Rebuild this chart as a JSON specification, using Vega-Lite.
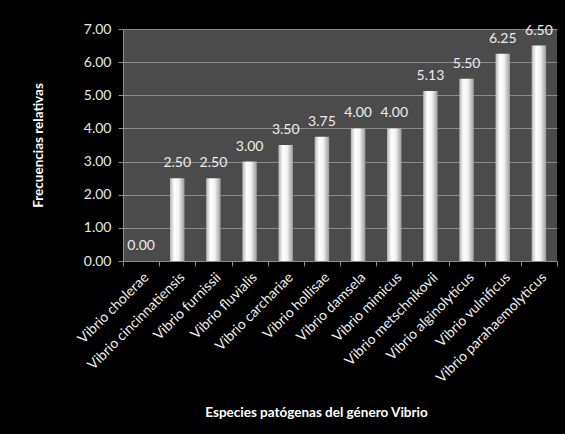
{
  "$schema": "https://vega.github.io/schema/vega-lite/v6.json",
  "width": 434,
  "height": 232,
  "autosize": {"type": "none"},
  "padding": {"left": 123, "top": 29, "right": 8, "bottom": 173},
  "background": "#000000",
  "config": {
    "font": "Lato",
    "view": {"fill": "#4b4b4b", "stroke": null}
  },
  "data": {
    "values": [
      {"especie": "Vibrio cholerae", "frecuencia": 0.00},
      {"especie": "Vibrio cincinnatiensis", "frecuencia": 2.50},
      {"especie": "Vibrio furnissii", "frecuencia": 2.50},
      {"especie": "Vibrio fluvialis", "frecuencia": 3.00},
      {"especie": "Vibrio carchariae", "frecuencia": 3.50},
      {"especie": "Vibrio hollisae", "frecuencia": 3.75},
      {"especie": "Vibrio damsela", "frecuencia": 4.00},
      {"especie": "Vibrio mimicus", "frecuencia": 4.00},
      {"especie": "Vibrio metschnikovii", "frecuencia": 5.13},
      {"especie": "Vibrio alginolyticus", "frecuencia": 5.50},
      {"especie": "Vibrio vulnificus", "frecuencia": 6.25},
      {"especie": "Vibrio parahaemolyticus", "frecuencia": 6.50}
    ]
  },
  "encoding": {
    "x": {
      "field": "especie",
      "type": "nominal",
      "sort": null,
      "scale": {"paddingInner": 0, "paddingOuter": 0},
      "axis": {
        "title": "Especies patógenas del género Vibrio",
        "titleColor": "#ffffff",
        "titleFontSize": 13.5,
        "titleFontWeight": "bold",
        "titleX": 193,
        "titleY": 151,
        "titleBaseline": "middle",
        "titleAlign": "center",
        "labelAngle": -45,
        "labelColor": "#f0f0f0",
        "labelFontSize": 14,
        "labelPadding": 4,
        "tickBand": "extent",
        "tickColor": "#8c8c8c",
        "tickSize": 5,
        "domainColor": "#8c8c8c",
        "grid": false
      }
    },
    "y": {
      "field": "frecuencia",
      "type": "quantitative",
      "scale": {"domain": [0, 7], "nice": false},
      "axis": {
        "title": "Frecuencias relativas",
        "titleColor": "#ffffff",
        "titleFontSize": 13.5,
        "titleFontWeight": "bold",
        "titleX": -85,
        "titleY": 116,
        "titleAngle": -90,
        "titleBaseline": "middle",
        "titleAlign": "center",
        "values": [0, 1, 2, 3, 4, 5, 6, 7],
        "format": ".2f",
        "labelColor": "#e8e8e8",
        "labelFontSize": 14,
        "labelPadding": 7,
        "tickColor": "#8c8c8c",
        "tickSize": 5,
        "domainColor": "#8c8c8c",
        "gridColor": "#8c8c8c",
        "gridWidth": 1
      }
    }
  },
  "layer": [
    {
      "mark": {
        "type": "bar",
        "width": {"band": 0.4},
        "color": {
          "gradient": "linear",
          "x1": 0, "y1": 0, "x2": 1, "y2": 0,
          "stops": [
            {"offset": 0, "color": "#b4b4b4"},
            {"offset": 0.3, "color": "#ffffff"},
            {"offset": 0.6, "color": "#f2f2f2"},
            {"offset": 1, "color": "#9a9a9a"}
          ]
        }
      }
    },
    {
      "mark": {
        "type": "text",
        "baseline": "bottom",
        "dy": -8,
        "fontSize": 14,
        "color": "#eeeeee"
      },
      "encoding": {
        "text": {"field": "frecuencia", "type": "quantitative", "format": ".2f"}
      }
    }
  ]
}
